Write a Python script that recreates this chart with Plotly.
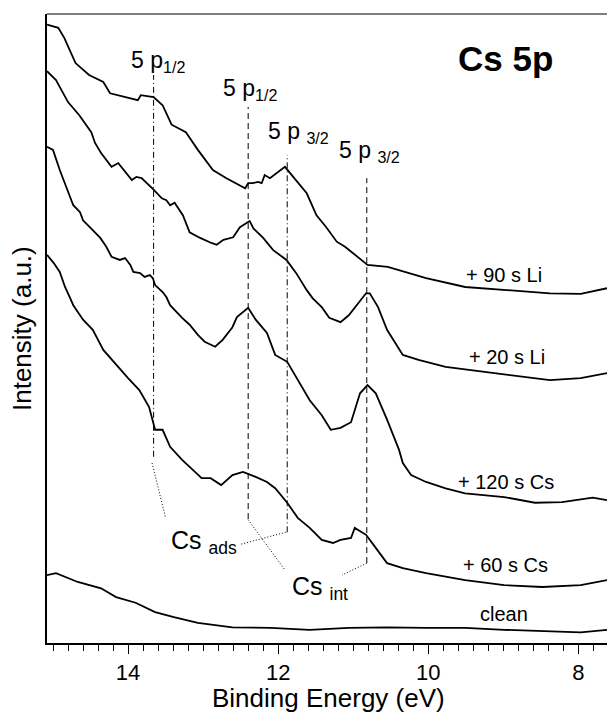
import plotly.graph_objects as go

# ---------------- data (binding energy in eV, intensity in arbitrary units) ----------------
E_li90 = [15.08, 14.93, 14.85, 14.70, 14.52, 14.33, 14.24, 14.05, 13.87, 13.83, 13.66, 13.54,
          13.42, 13.23, 13.07, 12.87, 12.69, 12.44, 12.40, 12.34, 12.27, 12.22, 12.18, 12.11,
          11.91, 11.80, 11.62, 11.49, 11.36, 11.22, 11.11, 10.86, 10.81, 10.54, 10.03, 9.51,
          8.99, 8.38, 7.97, 7.62]
I_li90 = [98.3, 97.8, 96.2, 92.2, 90.3, 89.2, 87.4, 86.8, 86.3, 87.1, 86.8, 85.5,
          82.4, 81.2, 78.4, 75.2, 73.9, 72.3, 73.1, 73.1, 73.3, 73.1, 74.4, 73.9,
          75.7, 74.1, 71.5, 68.0, 66.1, 63.8, 63.0, 60.6, 60.1, 59.8, 58.0, 56.6,
          56.1, 55.6, 55.5, 56.4]

E_li20 = [15.08, 14.96, 14.80, 14.65, 14.49, 14.44, 14.36, 14.22, 14.13, 14.06, 13.95, 13.89,
          13.82, 13.67, 13.55, 13.49, 13.44, 13.38, 13.27, 13.18, 13.04, 12.89, 12.82, 12.73,
          12.60, 12.51, 12.38, 12.33, 12.20, 12.07, 11.89, 11.76, 11.62, 11.54, 11.42, 11.32,
          11.17, 11.06, 10.83, 10.78, 10.67, 10.55, 10.34, 10.13, 9.77, 9.25, 8.74, 8.38,
          7.97, 7.62]
I_li20 = [90.9, 89.5, 86.0, 83.9, 81.2, 79.5, 77.9, 75.7, 76.3, 75.2, 73.6, 74.1,
          73.9, 72.2, 70.7, 70.4, 69.6, 70.0, 68.0, 65.3, 64.4, 63.6, 63.3, 64.1,
          64.5, 66.1, 67.1, 65.9, 64.4, 62.5, 60.9, 58.8, 56.1, 54.8, 53.4, 51.7,
          51.0, 52.1, 55.6, 55.6, 53.4, 49.8, 45.8, 45.0, 43.9, 43.1, 42.3, 41.8,
          42.1, 42.9]

E_cs120 = [15.08, 15.00, 14.91, 14.82, 14.73, 14.64, 14.60, 14.51, 14.37, 14.29, 14.22, 14.11,
           14.04, 13.97, 13.93, 13.84, 13.78, 13.71, 13.67, 13.64, 13.54, 13.49, 13.44, 13.28,
           13.18, 13.07, 12.98, 12.84, 12.74, 12.61, 12.55, 12.40, 12.30, 12.15, 12.04, 11.88,
           11.74, 11.58, 11.42, 11.30, 11.17, 11.03, 10.91, 10.81, 10.70, 10.55, 10.39, 10.34,
           10.23, 10.03, 9.77, 9.51, 8.99, 8.58, 8.22, 7.81, 7.62]
I_cs120 = [78.9, 78.4, 75.2, 72.3, 69.6, 68.5, 67.2, 66.1, 64.4, 63.0, 61.4, 60.9,
           61.2, 60.1, 59.0, 58.8, 58.2, 58.5, 58.0, 56.9, 55.8, 55.0, 53.7, 51.7,
           50.6, 49.0, 47.9, 47.1, 48.2, 50.2, 51.8, 53.3, 51.4, 49.3, 45.8, 44.7,
           41.8, 38.6, 36.2, 33.9, 34.2, 35.1, 39.7, 41.0, 39.7, 35.5, 30.7, 28.6,
           26.7, 25.6, 24.6, 23.8, 23.2, 22.3, 22.4, 23.1, 22.7]

E_cs60 = [15.08, 14.99, 14.91, 14.84, 14.77, 14.73, 14.60, 14.47, 14.33, 14.16, 14.00, 13.85,
          13.72, 13.64, 13.54, 13.44, 13.28, 13.18, 13.02, 12.90, 12.76, 12.61, 12.47, 12.30,
          12.15, 12.04, 11.88, 11.74, 11.58, 11.42, 11.27, 11.17, 11.03, 10.98, 10.83, 10.73,
          10.55, 10.34, 10.03, 9.51, 8.99, 8.48, 7.97, 7.62]
I_cs60 = [61.7, 60.4, 59.0, 56.6, 54.8, 53.7, 51.4, 49.8, 46.6, 44.2, 42.1, 40.2,
          37.5, 33.9, 33.9, 31.2, 29.1, 28.0, 26.2, 26.2, 25.1, 26.7, 27.2, 26.4,
          25.6, 24.6, 22.3, 19.9, 18.3, 16.4, 15.9, 16.4, 16.7, 18.3, 17.2, 15.6,
          12.7, 11.9, 11.1, 10.0, 9.2, 8.9, 9.2, 10.0]

E_clean = [15.08, 14.96, 14.67, 14.36, 14.16, 13.90, 13.64, 13.39, 13.07, 12.61, 12.10, 11.58,
           11.06, 10.55, 10.03, 9.51, 8.99, 8.48, 7.97, 7.62]
I_clean = [10.8, 11.1, 9.7, 8.7, 7.3, 6.4, 4.9, 4.1, 3.2, 2.5, 2.4, 2.1,
           2.4, 2.5, 2.4, 2.4, 2.1, 1.9, 1.7, 2.1]

curve_names = ["+ 90 s Li", "+ 20 s Li", "+ 120 s Cs", "+ 60 s Cs", "clean"]

# peak marker lines: energy, top and bottom intensity
peak_E = [13.66, 12.40, 11.88, 10.82]
peak_top = [90.3, 85.2, 77.6, 73.9]
peak_bottom = [29.6, 19.7, 17.6, 12.7]
peak_labels = ["5 p<sub>1/2</sub>", "5 p<sub>1/2</sub>", "5 p <sub>3/2</sub>", "5 p <sub>3/2</sub>"]

x_ticks = [14, 12, 10, 8]

# ---------------- figure ----------------
W, H = 607, 715
L, R, T, B = 47, 0, 14, 72
PW, PH = W - L - R, H - T - B


def px(x, y):
    """pixel position -> paper coordinates"""
    return (x - L) / PW, (H - B - y) / PH


FONT = "Liberation Sans, Arial, sans-serif"
fig = go.Figure()

series = [(E_li90, I_li90), (E_li20, I_li20), (E_cs120, I_cs120), (E_cs60, I_cs60), (E_clean, I_clean)]
for (ex, iy), nm in zip(series, curve_names):
    fig.add_trace(go.Scatter(x=ex, y=iy, mode="lines", name=nm,
                             line=dict(color="black", width=1.8), showlegend=False,
                             hoverinfo="skip"))

dashes = ["6px,3px,1px,3px", "6px,4px", "6px,3px,1px,3px", "6px,4px"]
for e, t, b, d in zip(peak_E, peak_top, peak_bottom, dashes):
    fig.add_shape(type="line", xref="x", yref="y", x0=e, x1=e, y0=b, y1=t,
                  line=dict(color="black", width=1, dash=d))

# dotted connectors to the Cs labels
conn = [((13.68, 28.6), (13.50, 19.9)),
        ((11.90, 17.6), (12.50, 15.7)),
        ((12.40, 19.6), (11.91, 11.6)),
        ((10.82, 12.7), (11.15, 10.8))]
for (x0, y0), (x1, y1) in conn:
    fig.add_shape(type="line", xref="x", yref="y", x0=x0, y0=y0, x1=x1, y1=y1,
                  line=dict(color="black", width=1, dash="1px,2px"))

# top border
fig.add_shape(type="line", xref="paper", yref="paper", x0=0, x1=1, y0=1, y1=1,
              line=dict(color="#555555", width=1.5))

ann = []


def add_text(text, x, y, size, xanchor="left", yanchor="middle", bold=False, angle=0):
    xp, yp = px(x, y)
    ann.append(dict(text=f"<b>{text}</b>" if bold else text, x=xp, y=yp, xref="paper", yref="paper",
                    showarrow=False, xanchor=xanchor, yanchor=yanchor, textangle=angle,
                    font=dict(family=FONT, size=size, color="black")))


label_pos = [(129, 61), (221, 89), (266, 133), (337, 151)]
for t, (x, y) in zip(peak_labels, label_pos):
    add_text(t, x, y, 23)

add_text("Cs 5p", 505, 58, 35, xanchor="center", bold=True)

curve_label_pos = [(504, 275), (507, 357), (506, 482), (505, 565), (504, 614)]
for t, (x, y) in zip(curve_names, curve_label_pos):
    add_text(t, x, y, 20, xanchor="center")

add_text("Cs <sub>ads</sub>", 169, 542, 25)
add_text("Cs <sub>int</sub>", 290, 588, 25)

add_text("Binding Energy (eV)", 328, 715, 26, xanchor="center", yanchor="bottom")
add_text("Intensity (a.u.)", 22, 329, 26, xanchor="center", angle=-90)

fig.update_layout(
    width=W, height=H, margin=dict(l=L, r=R, t=T, b=B, pad=0),
    paper_bgcolor="white", plot_bgcolor="white",
    annotations=ann, showlegend=False,
    font=dict(family=FONT, color="black"),
    xaxis=dict(range=[15.08, 7.62], tickvals=x_ticks, ticktext=[str(v) for v in x_ticks],
               ticks="outside", ticklen=9, tickwidth=1, tickcolor="black",
               minor=dict(dtick=0.2, tick0=0, ticks="outside", ticklen=6, tickwidth=1, tickcolor="black"),
               showline=True, linecolor="black", linewidth=2, showgrid=False, zeroline=False,
               tickfont=dict(family=FONT, size=22, color="black")),
    yaxis=dict(range=[0, 100], showticklabels=False, ticks="", showline=True, linecolor="black",
               linewidth=1.5, showgrid=False, zeroline=False),
)

fig.write_html("out.html")
